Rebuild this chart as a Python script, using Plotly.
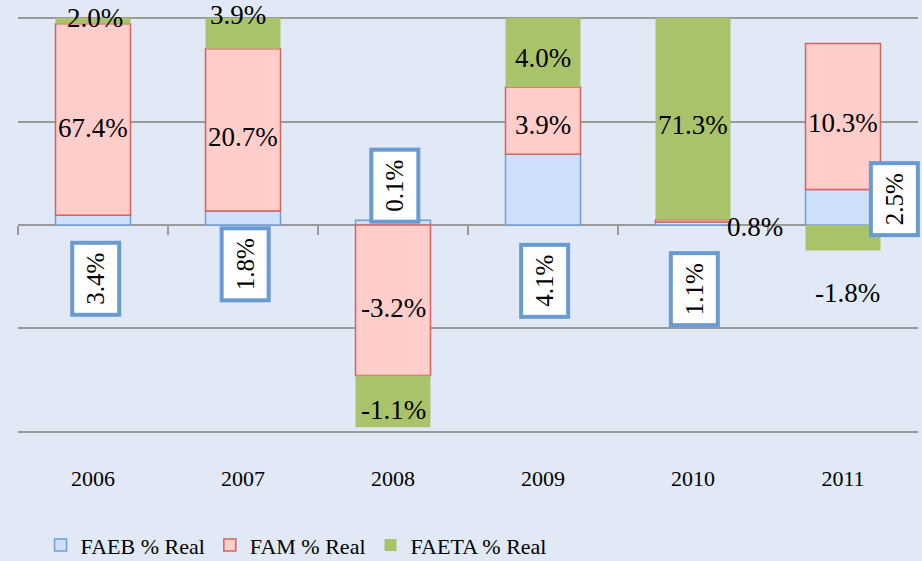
import plotly.graph_objects as go

years = ["2006", "2007", "2008", "2009", "2010", "2011"]
faeb = [3.4, 1.8, 0.1, 4.1, 1.1, 2.5]
fam = [67.4, 20.7, -3.2, 3.9, 0.8, 10.3]
faeta = [2.0, 3.9, -1.1, 4.0, 71.3, -1.8]
names = ["FAEB % Real", "FAM % Real", "FAETA % Real"]

# each segment height = its weight over the sum of absolute values of the year
totals = [abs(a) + abs(b) + abs(c) for a, b, c in zip(faeb, fam, faeta)]


def share(vals):
    return [v / t * 100 for v, t in zip(vals, totals)]


# label placement (y in axis units, x shift in px, y shift in px)
faeb_pos = [(-26, 3, 0), (-19, 2, 0), (19, 2, 0), (-27, 2, 0), (-31, 1, 0), (12.5, 51, 0)]
fam_pos = [(47, 0, 0), (42.5, 0, 0), (-40, 0, 0), (48.3, 0, 0), (-1, 62, 0), (49.3, 0, 0)]
faeta_pos = [(100, 2, 0), (100, -5, 3), (-89.4, 0, 0), (80.7, 0, 0), (48.3, 0, 0), (-32.9, 4, 0)]

bg = "#e1e8f6"
font = "Liberation Serif"

fig = go.Figure()
fig.add_trace(go.Bar(x=years, y=share(faeb), name=names[0],
                     marker=dict(color="#cddff9", line=dict(color="#6f9fd8", width=1.5))))
fig.add_trace(go.Bar(x=years, y=share(fam), name=names[1],
                     marker=dict(color="#ffcdca", line=dict(color="#d9625c", width=1.5))))
fig.add_trace(go.Bar(x=years, y=share(faeta), name=names[2],
                     marker=dict(color="#a9c36a", line=dict(width=0))))

# category axis: annotations use the category index
for i, (v, (py, dx, dy)) in enumerate(zip(faeb, faeb_pos)):
    fig.add_annotation(x=i, y=py, xshift=dx, yshift=dy, text="%.1f%%" % v,
                       showarrow=False, textangle=-90, bgcolor="white",
                       bordercolor="#6a9bd0", borderwidth=4, borderpad=8,
                       font=dict(size=25))
for vals, pos in ((fam, fam_pos), (faeta, faeta_pos)):
    for i, (v, (py, dx, dy)) in enumerate(zip(vals, pos)):
        fig.add_annotation(x=i, y=py, xshift=dx, yshift=dy, text="%.1f%%" % v,
                           showarrow=False, font=dict(size=27))

fig.update_layout(
    width=922, height=561,
    margin=dict(l=18, r=4, t=16, b=127),
    paper_bgcolor=bg, plot_bgcolor=bg,
    barmode="relative", bargap=0.5,
    font=dict(family=font, size=25, color="black"),
    legend=dict(orientation="h", xref="container", yref="container",
                x=0.044, y=0.028, yanchor="middle", traceorder="normal",
                font=dict(size=22)),
    xaxis=dict(type="category", range=[-0.5, 5.5], anchor="free", position=0.5,
               showgrid=False, showline=False, ticks="outside", tickson="boundaries",
               ticklen=9, tickcolor="#999999", tickwidth=1.5, tickangle=0,
               tickfont=dict(size=22), ticklabelstandoff=238, automargin=False),
    yaxis=dict(range=[-101, 101], dtick=50, showticklabels=False, automargin=False,
               gridcolor="#9a9a9a", gridwidth=1.5, zeroline=True,
               zerolinecolor="#9a9a9a", zerolinewidth=1.5),
)

# drop the page's default body margin so the chart fills the window
fig.write_html("out.html", config={"displayModeBar": False},
               post_script="document.body.style.margin='0';")
